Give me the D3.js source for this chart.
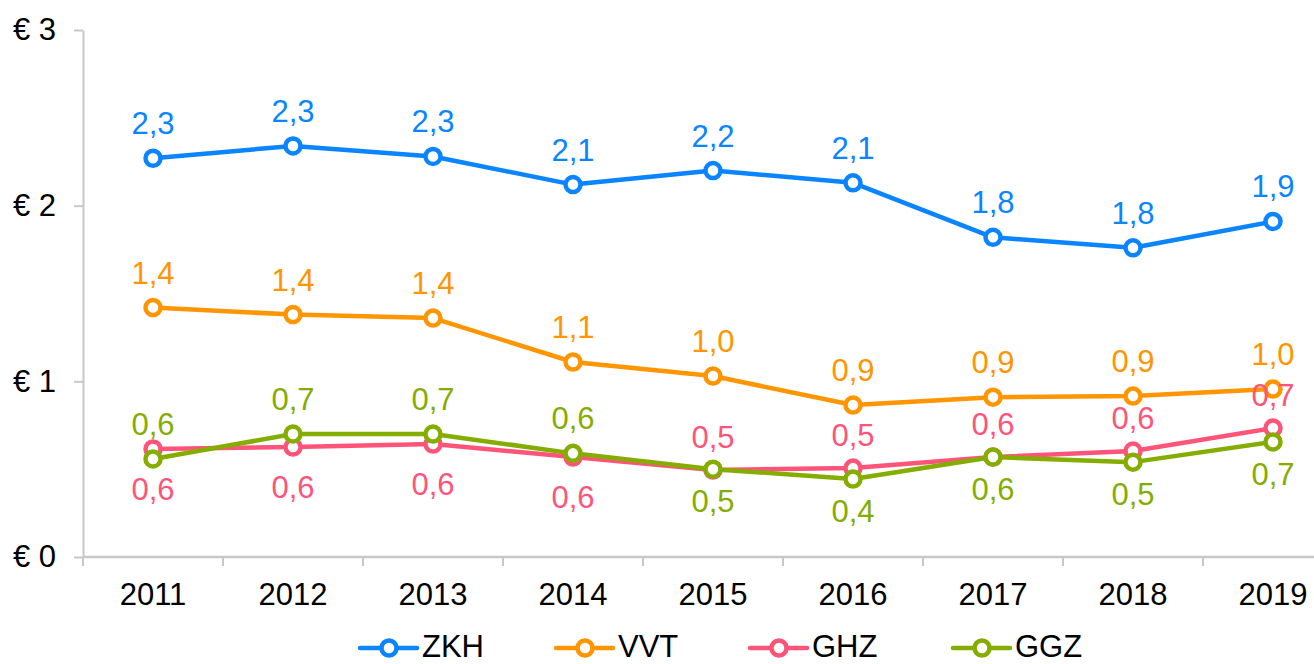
<!DOCTYPE html>
<html>
<head>
<meta charset="utf-8">
<script src="https://cdn.jsdelivr.net/npm/d3@7"></script>
<style>
  html, body { margin: 0; padding: 0; background: #fff; }
  svg { display: block; font-family: "Liberation Sans", Arial, sans-serif; }
</style>
</head>
<body>
<svg id="chart"></svg>
<script>
// data
const years = ["2011", "2012", "2013", "2014", "2015", "2016", "2017", "2018", "2019"];
const seriesNames = ["ZKH", "VVT", "GHZ", "GGZ"];
const zkh = [2.27, 2.34, 2.28, 2.12, 2.20, 2.13, 1.82, 1.76, 1.91];
const vvt = [1.42, 1.38, 1.36, 1.11, 1.03, 0.865, 0.91, 0.916, 0.956];
const ghz = [0.615, 0.626, 0.643, 0.569, 0.495, 0.506, 0.569, 0.603, 0.734];
const ggz = [0.558, 0.70, 0.70, 0.59, 0.50, 0.444, 0.569, 0.54, 0.655];
const yTicks = [0, 1, 2, 3];
// which side of the point each data label sits on (a = above, b = below)
const zkhSide = ["a", "a", "a", "a", "a", "a", "a", "a", "a"];
const vvtSide = ["a", "a", "a", "a", "a", "a", "a", "a", "a"];
const ghzSide = ["b", "b", "b", "b", "a", "a", "a", "a", "a"];
const ggzSide = ["a", "a", "a", "a", "b", "b", "b", "b", "b"];

const seriesColors = ["#0a84ff", "#ff9500", "#ff5479", "#85ad00"];
// label baseline offsets (px) above / below the point, per series
const labelOffsets = [[-24, 43], [-24, 43], [-22, 51], [-24, 43]];

const series = seriesNames.map((name, k) => ({
    name: name,
    values: [zkh, vvt, ghz, ggz][k],
    sides: [zkhSide, vvtSide, ghzSide, ggzSide][k],
    color: seriesColors[k],
    offs: labelOffsets[k]
}));

const width = 1314, height = 664;
const margins = { top: 30, right: -29, bottom: 107, left: 83 };
const axisColor = "#c8c8c8";
const fontSize = 31;

const nl = d3.formatLocale({ decimal: ",", thousands: ".", grouping: [3], currency: ["€ ", ""] });
const fmtLabel = nl.format(".1f");
const fmtTick = d => "€ " + d;

const x = d3.scaleBand()
    .domain(years)
    .range([margins.left, width - margins.right]);
const y = d3.scaleLinear()
    .domain([0, 3])
    .range([height - margins.bottom, margins.top]);
const cx = d => x(d) + x.bandwidth() / 2;

const svg = d3.select("#chart")
    .attr("width", width)
    .attr("height", height)
    .attr("viewBox", [0, 0, width, height]);

// y axis
svg.append("g")
    .attr("transform", `translate(${margins.left},0)`)
    .call(d3.axisLeft(y).tickValues(yTicks).tickFormat(fmtTick).tickSizeInner(9).tickSizeOuter(0).tickPadding(18))
    .call(g => g.select(".domain").attr("stroke", axisColor).attr("stroke-width", 2))
    .call(g => g.selectAll(".tick line").attr("stroke", axisColor).attr("stroke-width", 2))
    .call(g => g.selectAll("text")
        .attr("fill", "#000")
        .style("font-size", fontSize + "px")
        .style("font-family", "Liberation Sans, Arial, sans-serif"));

// x axis, ticks between categories
const xAxisG = svg.append("g")
    .attr("transform", `translate(0,${y(0)})`);
xAxisG.append("line")
    .attr("x1", margins.left).attr("x2", width - margins.right)
    .attr("stroke", axisColor).attr("stroke-width", 2.5);
xAxisG.selectAll("line.tk")
    .data(years)
    .join("line")
    .attr("class", "tk")
    .attr("x1", d => x(d)).attr("x2", d => x(d))
    .attr("y1", 0).attr("y2", 9)
    .attr("stroke", axisColor).attr("stroke-width", 2);
xAxisG.selectAll("text")
    .data(years)
    .join("text")
    .attr("x", cx)
    .attr("y", 48)
    .attr("text-anchor", "middle")
    .attr("fill", "#000")
    .style("font-size", fontSize + "px")
    .text(d => d);

// lines + markers
const line = d3.line()
    .x((d, i) => cx(years[i]))
    .y(d => y(d));

series.forEach(s => {
    const g = svg.append("g").attr("class", "series-" + s.name);
    g.append("path")
        .attr("d", line(s.values))
        .attr("fill", "none")
        .attr("stroke", s.color)
        .attr("stroke-width", 4.5)
        .attr("stroke-linejoin", "round")
        .attr("stroke-linecap", "round");
    g.selectAll("circle")
        .data(s.values)
        .join("circle")
        .attr("cx", (d, i) => cx(years[i]))
        .attr("cy", d => y(d))
        .attr("r", 7.5)
        .attr("fill", "#fff")
        .attr("stroke", s.color)
        .attr("stroke-width", 4.5);
});

// data labels
series.forEach(s => {
    svg.append("g").selectAll("text")
        .data(s.values)
        .join("text")
        .attr("x", (d, i) => cx(years[i]))
        .attr("y", (d, i) => y(d) + (s.sides[i] === "a" ? s.offs[0] : s.offs[1]))
        .attr("text-anchor", "middle")
        .attr("fill", s.color)
        .style("font-size", fontSize + "px")
        .text(d => fmtLabel(d));
});

// legend
const legendX = [360, 556, 750, 953];
const legend = svg.append("g").attr("transform", `translate(0,648)`);
series.forEach((s, k) => {
    const lg = legend.append("g").attr("transform", `translate(${legendX[k]},0)`);
    lg.append("line")
        .attr("x1", 0).attr("x2", 57)
        .attr("stroke", s.color).attr("stroke-width", 4.5)
        .attr("stroke-linecap", "round");
    lg.append("circle")
        .attr("cx", 29).attr("r", 7.5)
        .attr("fill", "#fff").attr("stroke", s.color).attr("stroke-width", 4.5);
    lg.append("text")
        .attr("x", 62).attr("y", 9)
        .attr("fill", "#000")
        .style("font-size", fontSize + "px")
        .text(s.name);
});
</script>
</body>
</html>
